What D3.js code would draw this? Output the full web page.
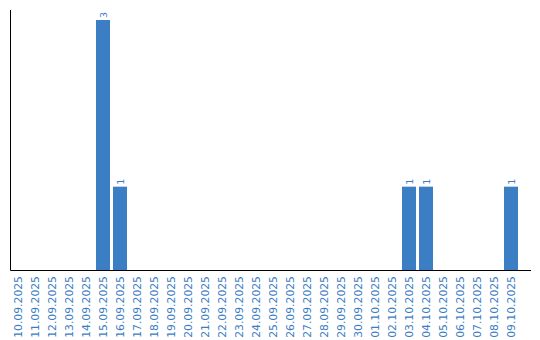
<!DOCTYPE html>
<html>
<head>
<meta charset="utf-8">
<script src="https://cdn.jsdelivr.net/npm/d3@7"></script>
<style>
  body { margin: 0; background: #fff; }
  svg text { font-family: "DejaVu Sans", Verdana, sans-serif; fill: #3b7dc4; }
</style>
</head>
<body>
<div id="chart"></div>
<script>
'use strict';
var dates = ['10.09.2025','11.09.2025','12.09.2025','13.09.2025','14.09.2025','15.09.2025',
  '16.09.2025','17.09.2025','18.09.2025','19.09.2025','20.09.2025','21.09.2025','22.09.2025',
  '23.09.2025','24.09.2025','25.09.2025','26.09.2025','27.09.2025','28.09.2025','29.09.2025',
  '30.09.2025','01.10.2025','02.10.2025','03.10.2025','04.10.2025','05.10.2025','06.10.2025',
  '07.10.2025','08.10.2025','09.10.2025'];
var counts = [0,0,0,0,0,3,1,0,0,0,0,0,0,0,0,0,0,0,0,0,0,0,0,1,1,0,0,0,0,1];

var chartWidth = 540, chartHeight = 340;
var marginLeft = 11, marginRight = 531, axisBottom = 270, axisTop = 10;

var data = dates.map(function(d, i) { return {date: d, value: counts[i]}; });

var svg = d3.select('#chart').append('svg')
  .attr('width', chartWidth)
  .attr('height', chartHeight);

// band step 17px, bar 14px, aligned to the left edge
var x = d3.scaleBand()
  .domain(dates)
  .range([marginLeft, marginRight])
  .paddingInner(3 / 17)
  .paddingOuter(0.382)
  .align(0);

var y = d3.scaleLinear()
  .domain([0, 3])
  .range([axisBottom, 20]);

var bar = svg.selectAll('g.bar')
  .data(data)
  .enter().append('g')
  .attr('class', 'bar');

bar.filter(function(d) { return d.value > 0; })
  .append('rect')
  .attr('x', function(d) { return x(d.date); })
  .attr('y', function(d) { return y(d.value); })
  .attr('width', x.bandwidth())
  .attr('height', function(d) { return axisBottom - y(d.value); })
  .attr('fill', '#3b7ec3');

// value labels, rotated like the ticks
bar.filter(function(d) { return d.value > 0; })
  .append('text')
  .attr('transform', function(d) {
    return 'translate(' + (x(d.date) + x.bandwidth() / 2 + 3.5) + ',' + (y(d.value) - 2) + ') rotate(-90)';
  })
  .attr('font-size', '9.5px')
  .style('text-anchor', 'start')
  .text(function(d) { return d.value; });

// axes lines
svg.append('path')
  .attr('d', 'M' + (marginLeft - 0.5) + ',' + axisTop + 'V' + (axisBottom + 0.5) + 'H' + marginRight)
  .attr('fill', 'none')
  .attr('stroke', '#000')
  .attr('stroke-width', 1);

// date labels
svg.selectAll('text.tick')
  .data(dates)
  .enter().append('text')
  .attr('class', 'tick')
  .attr('transform', function(d) {
    return 'translate(' + (x(d) + x.bandwidth() / 2 + 3.5) + ',' + (axisBottom + 6) + ') rotate(-90)';
  })
  .attr('font-size', '10.8px')
  .style('text-anchor', 'end')
  .text(function(d) { return d; });
</script>
</body>
</html>
